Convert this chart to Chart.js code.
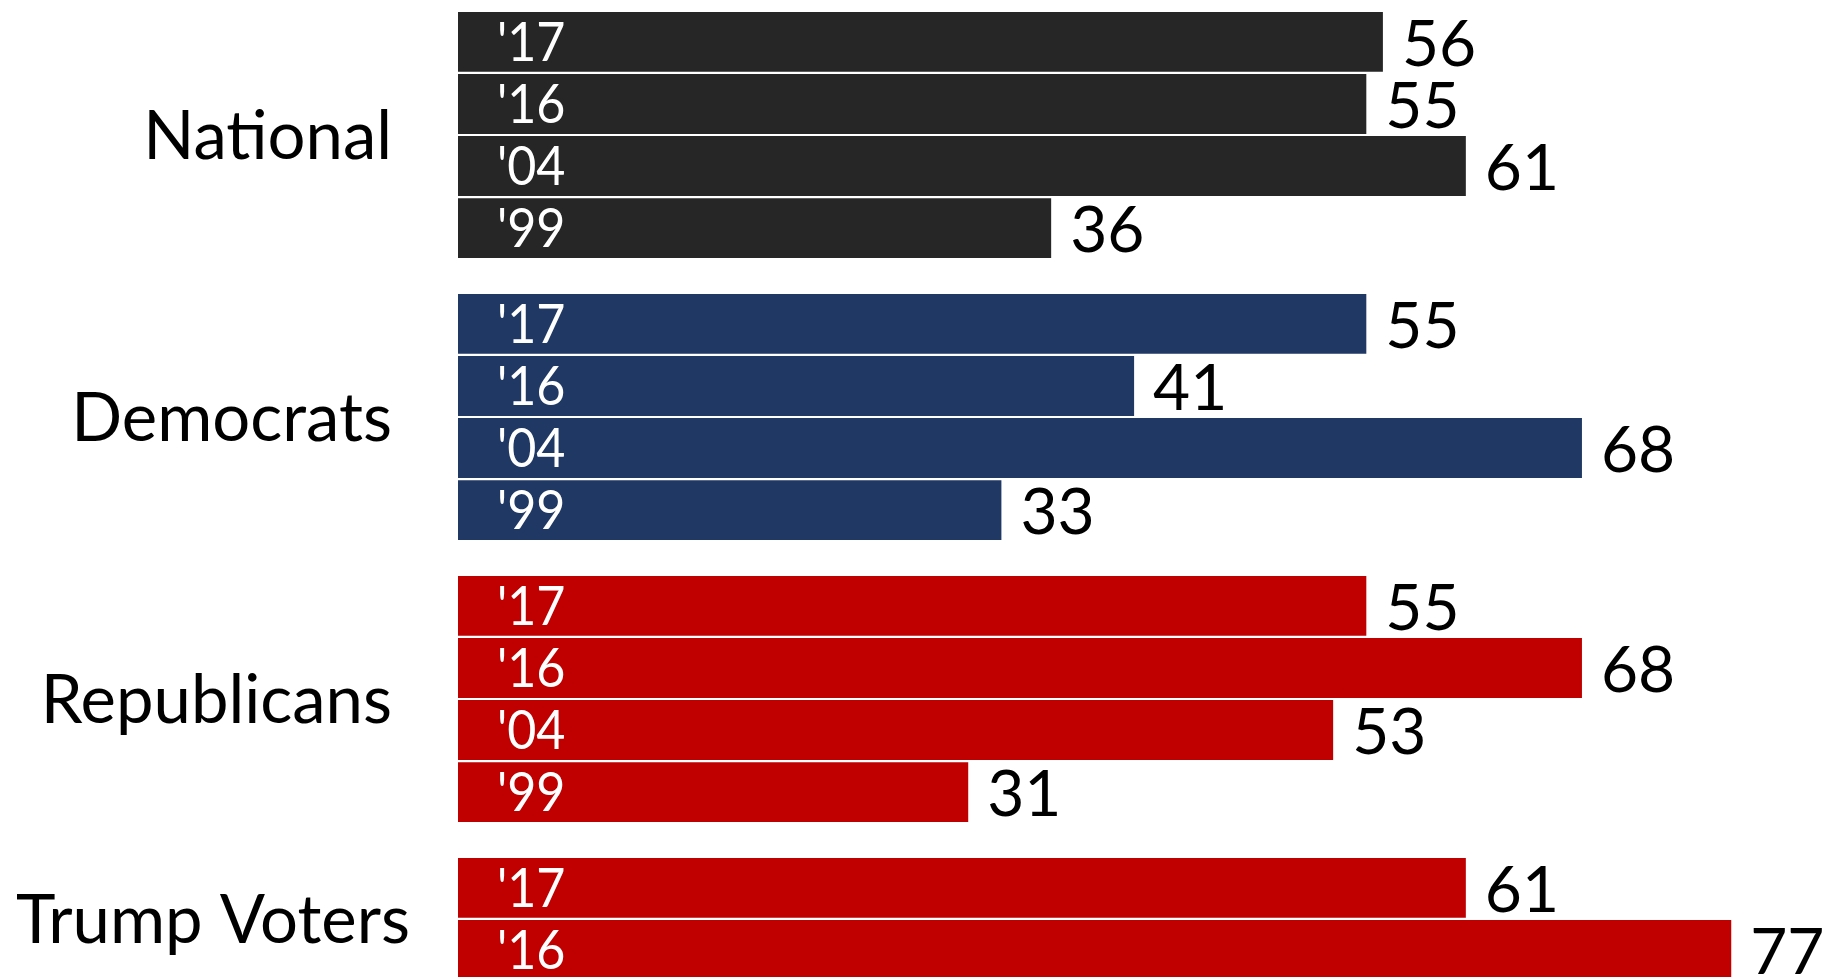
<!DOCTYPE html>
<html>
<head>
<meta charset="utf-8">
<script src="https://cdn.jsdelivr.net/npm/chart.js@4/dist/chart.umd.min.js"></script>
<style>
  html, body { margin: 0; padding: 0; background: #fff; overflow: hidden; }
  #wrap { position: absolute; left: 0; top: -6px; width: 1824px; height: 1128px; }
</style>
</head>
<body>
<div id="wrap"><canvas id="chart" width="1824" height="1128"></canvas></div>
<script>
  const groups = ['National', 'Democrats', 'Republicans', 'Trump Voters'];
  const years = ["'17", "'16", "'04", "'99"];
  const values17 = [56, 55, 55, 61];
  const values16 = [55, 41, 68, 77];
  const values04 = [61, 68, 53, null];
  const values99 = [36, 33, 31, null];
  const groupColors = ['#262626', '#203864', '#C00000', '#C00000'];

  const FONT = 'Lato, "Noto Sans", sans-serif';

  // draws text with its cap height centred on y
  function drawText(ctx, text, x, y, size, color, align, squeeze) {
    ctx.save();
    ctx.font = `${size}px ${FONT}`;
    ctx.fillStyle = color;
    ctx.textBaseline = 'alphabetic';
    ctx.textAlign = align;
    ctx.translate(x, y + size * 0.7165 / 2);
    ctx.scale(squeeze, 1);
    ctx.fillText(text, 0, 0);
    ctx.restore();
  }

  const barLabels = {
    id: 'barLabels',
    afterDatasetsDraw(chart) {
      const ctx = chart.ctx;
      const area = chart.chartArea;
      const centers = groups.map(() => []);

      chart.data.datasets.forEach((ds, di) => {
        const meta = chart.getDatasetMeta(di);
        meta.data.forEach((bar, i) => {
          if (ds.data[i] == null) return;
          centers[i].push(bar.y);
          drawText(ctx, ds.label, area.left + 39, bar.y, 54, '#ffffff', 'left', 0.93);
          drawText(ctx, String(ds.data[i]), bar.x + 19, bar.y + 1, 64, '#000000', 'left', 1);
        });
      });

      groups.forEach((name, i) => {
        if (!centers[i].length) return;
        const cy = centers[i].reduce((a, b) => a + b, 0) / centers[i].length;
        ctx.save();
        ctx.font = `67px ${FONT}`;
        const w = ctx.measureText(name).width;
        ctx.restore();
        const right = Math.max(392, 16 + w);
        drawText(ctx, name, right, cy, 67, '#000000', 'right', 1);
      });
    }
  };

  new Chart(document.getElementById('chart'), {
    type: 'bar',
    data: {
      labels: groups,
      datasets: [values17, values16, values04, values99].map((vals, k) => ({
        label: years[k],
        data: vals,
        backgroundColor: groupColors,
        borderWidth: 0,
        clip: 0,
        categoryPercentage: 0.88,
        barPercentage: 0.965
      }))
    },
    options: {
      indexAxis: 'y',
      responsive: false,
      animation: false,
      events: [],
      layout: { padding: { left: 458, right: 43, top: 0, bottom: 0 } },
      scales: {
        x: { display: false, min: 0.24, max: 80 },
        y: { display: false }
      },
      plugins: {
        legend: { display: false },
        tooltip: { enabled: false }
      }
    },
    plugins: [barLabels]
  });
</script>
</body>
</html>
